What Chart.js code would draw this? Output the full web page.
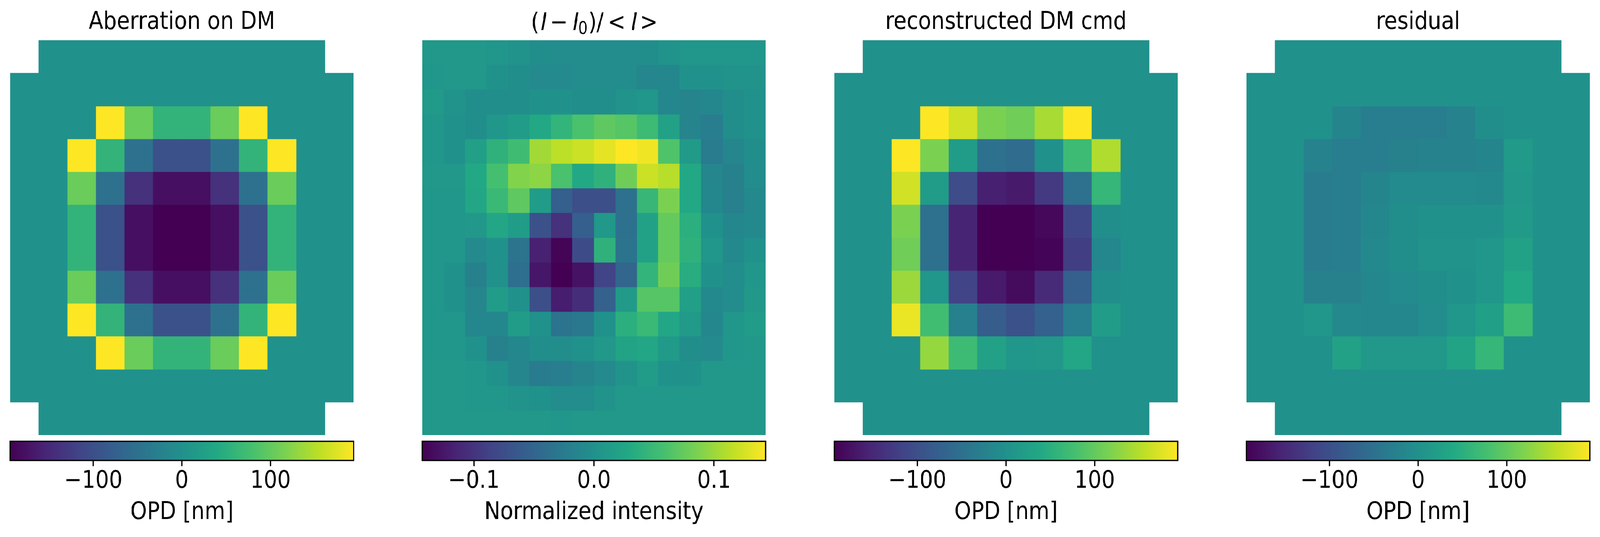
<!DOCTYPE html>
<html><head><meta charset="utf-8">
<script src="https://cdn.jsdelivr.net/npm/chart.js@4"></script>
<style>html,body{margin:0;padding:0;background:#fff;overflow:hidden}#figure{position:absolute;left:0;top:0;width:4710px;height:1375px;transform-origin:0 0}canvas{position:absolute}</style>
</head><body>
<div id="figure"></div>
<script>
const viridisStops=['#440154','#482475','#414487','#355f8d','#2a788e','#21918c','#22a884','#44bf70','#7ad151','#bddf26','#fde725'];
const opdLimit=193.7;
const intensityLimit=0.143;
const opdTicks=[-100,0,100];
const opdTickLabels=['\u2212100','0','100'];
const intensityTicks=[-0.1,0,0.1];
const intensityTickLabels=['\u22120.1','0.0','0.1'];
const titles=['Aberration on DM','(I \u2212 I\u2080)/ < I >','reconstructed DM cmd','residual'];
const colorbarLabels=['OPD [nm]','Normalized intensity','OPD [nm]','OPD [nm]'];
const aberration=[
[null,0,0,0,0,0,0,0,0,0,0,null],
[0,0,0,0,0,0,0,0,0,0,0,0],
[0,0,0,194,105,58,58,105,194,0,0,0],
[0,0,194,58,-50,-97,-97,-50,58,194,0,0],
[0,0,105,-50,-139,-178,-178,-139,-50,105,0,0],
[0,0,58,-97,-178,-194,-194,-178,-97,58,0,0],
[0,0,58,-97,-178,-194,-194,-178,-97,58,0,0],
[0,0,105,-50,-139,-178,-178,-139,-50,105,0,0],
[0,0,194,58,-50,-97,-97,-50,58,194,0,0],
[0,0,0,194,105,58,58,105,194,0,0,0],
[0,0,0,0,0,0,0,0,0,0,0,0],
[null,0,0,0,0,0,0,0,0,0,0,null]];
const intensity=[
[.009,.009,.009,.006,.003,-.003,-.006,-.006,-.006,-.006,-.003,.003,.006,.006,.006,.006],
[.006,.009,.009,0,-.003,-.008,-.008,-.006,-.006,-.006,-.013,-.011,0,0,.003,.003],
[.011,.003,-.003,-.003,-.003,0,0,-.003,-.003,.003,.006,-.011,-.015,-.011,-.003,0],
[.006,0,-.003,.006,.014,.029,.043,.060,.072,.066,.051,.020,-.015,-.023,-.003,0],
[.006,0,.017,.040,.054,.103,.114,.120,.132,.143,.137,.063,.011,-.025,-.013,-.003],
[.009,.009,.029,.057,.089,.094,.060,.029,.040,.080,.120,.112,.029,-.013,-.018,-.006],
[.006,.006,.026,.049,.072,.014,-.057,-.074,-.074,-.037,.046,.086,.029,-.011,-.021,-.009],
[.006,.006,.009,.026,.014,-.072,-.103,-.057,.009,-.037,.020,.074,.037,0,-.011,-.009],
[.006,.006,-.008,0,-.034,-.117,-.140,-.077,.040,-.034,.020,.074,.040,.006,-.009,0],
[.006,0,-.018,0,-.040,-.126,-.143,-.129,-.086,-.049,.043,.080,.034,0,-.006,.006],
[.006,0,-.013,.014,0,-.074,-.120,-.106,-.054,.011,.066,.066,.017,-.009,-.006,.009],
[.006,.006,-.011,-.011,.014,0,-.034,-.029,0,.037,.049,.026,.011,-.011,.006,.014],
[.006,.006,0,-.018,-.011,-.003,-.003,0,.009,.023,.026,.011,-.003,-.008,.006,.009],
[.009,.009,.006,0,-.013,-.025,-.023,-.015,-.008,.003,.014,0,0,.009,.009,.009],
[.009,.009,.006,.006,.003,0,-.006,-.006,.003,.009,.009,.009,.009,.009,.009,.009],
[.009,.009,.009,.009,.009,.009,.006,.009,.009,.009,.009,.009,.009,.009,.009,.009]];
const reconstructed=[
[null,0,0,0,0,0,0,0,0,0,0,null],
[0,0,0,0,0,0,0,0,0,0,0,0],
[0,0,0,194,167,116,108,143,194,0,0,0],
[0,0,194,116,19,-50,-58,0,70,147,0,0],
[0,0,167,19,-105,-159,-166,-128,-50,62,0,0],
[0,0,116,-50,-155,-194,-194,-186,-112,-4,0,0],
[0,0,108,-50,-155,-194,-194,-190,-124,-15,0,0],
[0,0,136,8,-116,-166,-182,-147,-77,-4,0,0],
[0,0,182,74,-27,-81,-97,-74,-31,19,0,0],
[0,0,0,132,70,27,8,12,35,0,0,0],
[0,0,0,0,0,0,0,0,0,0,0,0],
[null,0,0,0,0,0,0,0,0,0,0,null]];
const residual=[
[null,0,0,0,0,0,0,0,0,0,0,null],
[0,0,0,0,0,0,0,0,0,0,0,0],
[0,0,0,-18,-30,-30,-30,-22,-4,0,0,0],
[0,0,-22,-30,-30,-25,-22,-22,-18,15,0,0],
[0,0,-33,-30,-18,-10,-10,-10,-12,12,0,0],
[0,0,-33,-30,-15,-4,0,0,0,15,0,0],
[0,0,-33,-30,-12,-4,4,4,8,27,0,0],
[0,0,-25,-25,-15,-10,-4,0,8,39,0,0],
[0,0,8,-12,-15,-15,-8,8,23,70,0,0],
[0,0,0,27,12,12,12,31,62,0,0,0],
[0,0,0,0,0,0,0,0,0,0,0,0],
[null,0,0,0,0,0,0,0,0,0,0,null]];

const FONT='"DejaVu Sans"';
const FS=62.5;
const PLOT=1011, LEFTS=[30,1243,2456,3669];
const figure=document.getElementById('figure');
figure.style.transform=`scaleX(${Math.min(1,window.innerWidth/4710)})`;
Chart.defaults.animation=false;
Chart.defaults.font.family=FONT;
Chart.defaults.color='#000';

function hex(h){return [1,3,5].map(i=>parseInt(h.substr(i,2),16));}
function viridis(t){
  t=Math.max(0,Math.min(1,t));
  const p=t*(viridisStops.length-1), i=Math.min(Math.floor(p),viridisStops.length-2), f=p-i;
  const a=hex(viridisStops[i]), b=hex(viridisStops[i+1]);
  return `rgb(${a.map((c,k)=>Math.round(c+(b[k]-c)*f)).join(',')})`;
}
const snapCells={id:'snapCells',afterDatasetsUpdate(chart){
  chart.data.datasets.forEach((d,i)=>{
    chart.getDatasetMeta(i).data.forEach(el=>{
      if(el.skip) return;
      const l=Math.round(el.x-el.width/2), r=Math.round(el.x+el.width/2);
      el.x=(l+r)/2; el.width=r-l; el.y=Math.round(el.y); el.base=Math.round(el.base);
    });
  });
}};
const mathTitle={id:'mathTitle',afterDraw(chart,a,o){
  if(!o.segments) return;
  const c=chart.ctx; c.save(); c.fillStyle='#000'; c.textAlign='left'; c.textBaseline='alphabetic';
  o.segments.forEach(([s,x,style,size,y])=>{c.font=`${style} ${size}px ${FONT}`; c.fillText(s,x,y);});
  c.restore();
}};
const frame={id:'frame',afterDraw(chart){
  const c=chart.ctx,A=chart.chartArea; c.save(); c.strokeStyle='#000'; c.lineWidth=3.3;
  c.strokeRect(A.left,A.top,A.right-A.left,A.bottom-A.top); c.restore();
}};

function addCanvas(left,top,w,h){
  const c=document.createElement('canvas'); c.width=w;c.height=h;
  c.style.left=left+'px';c.style.top=top+'px';c.style.width=w+'px';c.style.height=h+'px';
  figure.appendChild(c); return c;
}
function heatmap(idx,grid,limit){
  const n=grid.length, columns=grid[0].map((_,i)=>i);
  const isMath=idx===1;
  new Chart(addCanvas(LEFTS[idx],0,PLOT,1120),{
    type:'bar',
    data:{labels:columns,datasets:grid.map((row,r)=>({
      data:row.map(v=>v===null?null:[r,r+1]),
      backgroundColor:row.map(v=>v===null?'rgba(0,0,0,0)':viridis((v+limit)/(2*limit))),
      borderWidth:0,grouped:false,barPercentage:1,categoryPercentage:1
    }))},
    options:{responsive:false,devicePixelRatio:1,events:[],
      layout:{padding:{top:isMath?103:0,bottom:6}},
      scales:{x:{display:false},y:{display:false,reverse:true,min:0,max:n}},
      plugins:{legend:{display:false},tooltip:{enabled:false},
        title:{display:!isMath,text:titles[idx],color:'#000',font:{size:FS,weight:'normal',family:FONT,lineHeight:1.2},padding:{top:20,bottom:8}},
        mathTitle:isMath?{segments:[
          ['(',320,'normal',FS,77],['I',349,'oblique',FS,77],['\u2212',376,'normal',FS,77],
          ['I',443,'oblique',FS,77],['0',459,'normal',43.7,87],[')',489,'normal',FS,77],
          ['/',513,'normal',FS,77],['<',546,'normal',FS,77],['I',615,'oblique',FS,77],['>',641,'normal',FS,77]
        ]}:{}
      }
    },
    plugins:[snapCells,mathTitle]
  });
}
function colorbar(idx,limit,ticks,labels){
  new Chart(addCanvas(LEFTS[idx]-10,1120,PLOT+20,255),{
    type:'bar',
    data:{labels:[''],datasets:[{data:[[-limit,limit]],borderWidth:0,barPercentage:1,categoryPercentage:1,
      backgroundColor(ctx){
        const A=ctx.chart.chartArea; if(!A) return '#000';
        const g=ctx.chart.ctx.createLinearGradient(A.left,0,A.right,0);
        viridisStops.forEach((s,i)=>g.addColorStop(i/(viridisStops.length-1),s));
        return g;
      }}]},
    options:{indexAxis:'y',responsive:false,devicePixelRatio:1,events:[],
      layout:{padding:{top:10,left:10,right:10}},
      scales:{
        y:{display:false},
        x:{type:'linear',min:-limit,max:limit,bounds:'data',
          afterFit(s){s.height=196;},
          afterBuildTicks(s){s.ticks=ticks.map(value=>({value}));},
          border:{display:false},
          grid:{drawOnChartArea:false,drawTicks:true,tickLength:14.6,tickWidth:3.3,tickColor:'#000'},
          ticks:{autoSkip:false,maxRotation:0,padding:2,color:'#000',font:{size:FS,family:FONT},
            callback(v,i){return labels[i];}},
          title:{display:true,text:colorbarLabels[idx],color:'#000',font:{size:FS,family:FONT},padding:{top:0,bottom:25}}
        }
      },
      plugins:{legend:{display:false},tooltip:{enabled:false},title:{display:false}}
    },
    plugins:[frame]
  });
}
heatmap(0,aberration,opdLimit);
heatmap(1,intensity,intensityLimit);
heatmap(2,reconstructed,opdLimit);
heatmap(3,residual,opdLimit);
colorbar(0,opdLimit,opdTicks,opdTickLabels);
colorbar(1,intensityLimit,intensityTicks,intensityTickLabels);
colorbar(2,opdLimit,opdTicks,opdTickLabels);
colorbar(3,opdLimit,opdTicks,opdTickLabels);
</script>
</body></html>
